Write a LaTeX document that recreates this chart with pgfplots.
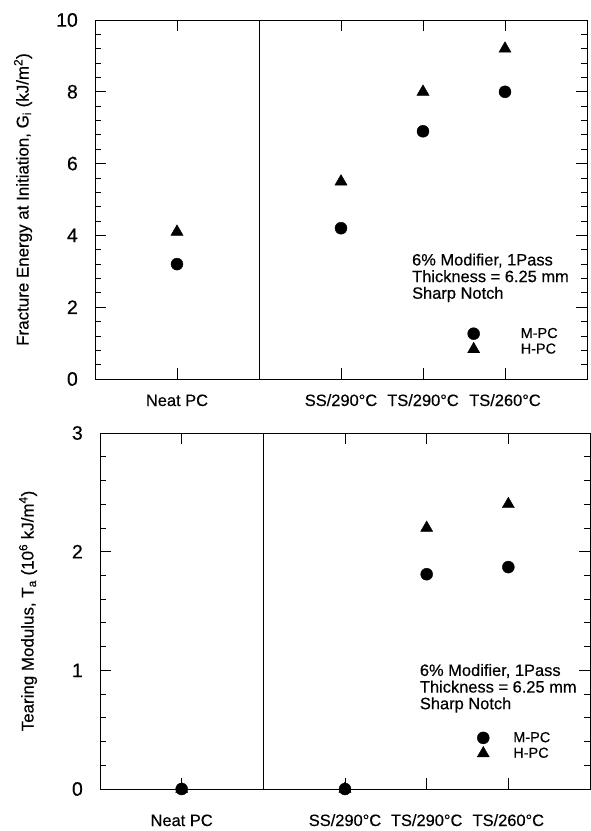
\documentclass[border=0pt]{standalone}
\usepackage{fontspec}
\setmainfont{Liberation Sans}[FakeBold=0.4]
\usepackage{pgfplots}
\pgfplotsset{compat=1.18}

% Fracture energy (top) and tearing modulus (bottom) data
% x: 0 = Neat PC, 2 = SS/290C, 3 = TS/290C, 4 = TS/260C
\pgfplotstableread{
x  y
0  3.2
2  4.2
3  6.9
4  8.0
}\gimpc
\pgfplotstableread{
x  y
0  4.1
2  5.5
3  8.0
4  9.2
}\gihpc
\pgfplotstableread{
x  y
0  0
2  0
3  1.81
4  1.87
}\tampc
\pgfplotstableread{
x  y
0  0
2  0
3  2.2
4  2.4
}\tahpc

\pgfplotsset{
  panel/.style={
    scale only axis, clip=false,
    xmin=-1, xmax=5,
    xtick={0,2,3,4},
    xticklabels={Neat PC, SS/290°C, TS/290°C, TS/260°C},
    tick align=inside,
    major tick length=11bp, minor tick length=6bp,
    axis line style={line width=1bp},
    every tick/.style={black, line width=0.8bp},
    minor y tick num=4,
    /pgf/number format/assume math mode=true,
    xticklabel style={font=\fontsize{16.5}{16.5}\selectfont, anchor=base, inner sep=0pt},
    yticklabel style={font=\fontsize{19.5}{19.5}\selectfont, anchor=east, inner sep=0pt, xshift=-17bp},
    every axis y label/.style={at={(axis description cs:0,0.5)}, xshift=-72bp,
      rotate=90, anchor=center, font=\fontsize{17}{19}\selectfont},
    legend style={draw=none, fill=none, font=\fontsize{14.5}{16}\selectfont,
      nodes={font=\fontsize{14.5}{16}\selectfont}},
    legend cell align=left,
  },
  mpc/.style={only marks, mark=*, mark size=6bp, black},
  hpc/.style={only marks, mark=triangle*, mark size=7bp, black},
}

\begin{document}
\begin{tikzpicture}

% Fracture energy at initiation
\begin{axis}[panel,
  at={(95bp,-20bp)}, anchor=north west,
  width=492bp, height=359bp,
  ymin=0, ymax=10, ytick={0,2,...,10},
  xticklabel style={yshift=-27bp},
  ylabel={Fracture Energy at Initiation, G\textsubscript{i} (kJ/m\textsuperscript{2})},
  legend style={at={(axis cs:3.505,1.54)}, anchor=north west,
    /tikz/every odd column/.append style={column sep=39bp}},
]
\addplot[black, line width=0.6bp, forget plot] coordinates {(1,0) (1,10)};
\addplot[mpc] table {\gimpc};
\addlegendentry{M-PC}
\addplot[hpc] table {\gihpc};
\addlegendentry{H-PC}
\node[anchor=north west, align=left, inner sep=0pt, font=\fontsize{16.5}{16.7}\selectfont]
  at (axis cs:2.865,3.50) {6\% Modifier, 1Pass\\Thickness = 6.25 mm\\Sharp Notch};
\end{axis}

% Tearing modulus
\begin{axis}[panel,
  at={(100bp,-433bp)}, anchor=north west,
  width=490bp, height=356bp,
  ymin=0, ymax=3, ytick={0,1,2,3},
  xticklabel style={yshift=-37bp},
  ylabel={Tearing Modulus, T\textsubscript{a} (10\textsuperscript{6} kJ/m\textsuperscript{4})},
  legend style={at={(axis cs:3.58,0.515)}, anchor=north west,
    /tikz/every odd column/.append style={column sep=22bp}},
]
\addplot[black, line width=0.6bp, forget plot] coordinates {(1,0) (1,3)};
\addplot[mpc] table {\tampc};
\addlegendentry{M-PC}
\addplot[hpc] table {\tahpc};
\addlegendentry{H-PC}
\node[anchor=north west, align=left, inner sep=0pt, font=\fontsize{16.5}{16.7}\selectfont]
  at (axis cs:2.915,1.055) {6\% Modifier, 1Pass\\Thickness = 6.25 mm\\Sharp Notch};
\end{axis}

% page frame
\pgfresetboundingbox
\path[use as bounding box] (0bp,0bp) rectangle (591bp,-831bp);
\end{tikzpicture}
\end{document}
